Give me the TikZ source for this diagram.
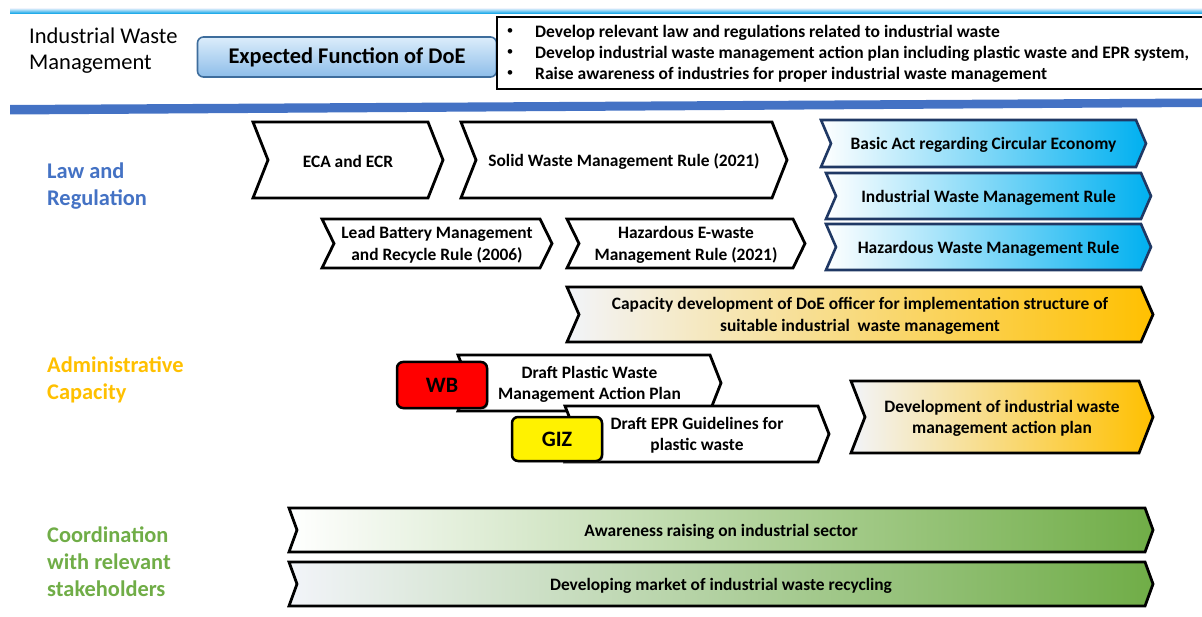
\documentclass[tikz,border=0pt]{standalone}
\usepackage{fontspec}
\setmainfont{Carlito}
\usetikzlibrary{shadows}

\definecolor{lawblue}{HTML}{4472C4}
\definecolor{gold}{HTML}{FFC000}
\definecolor{leaf}{HTML}{70AD47}
\definecolor{sky}{HTML}{00B0F0}
\definecolor{navy}{HTML}{1F3864}
\definecolor{paleblue}{HTML}{F2F4F9}
\definecolor{btntop}{HTML}{DCEDFB}
\definecolor{btnbot}{HTML}{8DBDE9}
\definecolor{btnrim}{HTML}{3E6D9C}

% chevron: name, x1, y1, x2, y2, tip depth, path style, label
\newcommand\chevron[8]{%
  \path[#7] (#2,#3) -- (#4-#6,#3) -- (#4,{(#3+#5)/2}) -- (#4-#6,#5)
    -- (#2,#5) -- (#2+#6,{(#3+#5)/2}) -- cycle;
  \node[chevtext] (#1) at ({(#2+#4)/2},{(#3+#5)/2+1.5}) {#8};
}

\begin{document}
\begin{tikzpicture}[x=1pt,y=-1pt,
  chevtext/.style={font=\fontsize{17.4}{21.5}\selectfont\bfseries,align=center,inner sep=0pt},
  plain/.style={draw=black,line width=2.8pt,fill=white,line join=miter},
  bluechev/.style={draw=navy,line width=2.6pt,left color=white,right color=sky,shading=axis,line join=miter},
  goldchev/.style={draw=black,line width=2.8pt,left color=paleblue,right color=gold,shading=axis,line join=miter},
  greenchev/.style={draw=black,line width=2.8pt,left color=white,right color=leaf,shading=axis,line join=miter},
  greenchevb/.style={draw=black,line width=2.8pt,left color=paleblue,right color=leaf,shading=axis,line join=miter},
  section/.style={anchor=west,align=left,inner sep=0pt,font=\fontsize{22.4}{27}\selectfont\bfseries},
  bullettext/.style={anchor=west,inner sep=0pt,font=\fontsize{17.5}{21}\selectfont\bfseries},
  bulletdot/.style={inner sep=0pt,font=\fontsize{13}{15}\selectfont},
  tag/.style={draw=black,line width=2.5pt,rounded corners=6pt,inner sep=0pt,
    font=\fontsize{22}{24}\selectfont\bfseries,drop shadow={shadow xshift=1.5pt,shadow yshift=-1.5pt,opacity=0.4}}
]
\useasboundingbox (0,0) rectangle (1202,617);
\clip (0,0) rectangle (1202,617);

% header rules
\shade[top color=btntop,bottom color=sky!80!lawblue] (10,8.5) rectangle (1202,13.5);
\fill[lawblue] (10,105) -- (1202,98.5) -- (1202,107) -- (10,114.5) -- cycle;

% header
\node[anchor=west,align=left,inner sep=0pt,font=\fontsize{22.5}{26}\selectfont] (title) at (29,51)
  {Industrial Waste\\Management};
\node[draw=btnrim,line width=1.6pt,rounded corners=6pt,top color=btntop,bottom color=btnbot,
  minimum width=299pt,minimum height=40pt,inner sep=0pt,
  font=\fontsize{22.4}{24}\selectfont\bfseries] (doe) at (347,57) {Expected Function of DoE};
\draw[line width=1.4pt] (1210,17) -- (497,17) -- (497,89) -- (1210,89);
\node[bulletdot] (b1) at (510,32) {•};
\node[bullettext] (t1) at (535,33) {Develop relevant law and regulations related to industrial waste};
\node[bulletdot] (b2) at (510,53) {•};
\node[bullettext] (t2) at (535,54) {Develop industrial waste management action plan including plastic waste and EPR system,};
\node[bulletdot] (b3) at (510,74) {•};
\node[bullettext] (t3) at (535,75) {Raise awareness of industries for proper industrial waste management};

% section labels
\node[section,text=lawblue] (law) at (47,186) {Law and\\Regulation};
\node[section,text=gold] (adm) at (47,380) {Administrative\\Capacity};
\node[section,text=leaf] (coord) at (47,562) {Coordination\\with relevant\\stakeholders};

% law and regulation
\chevron{eca}{253}{122}{443}{198}{15}{plain}{ECA and ECR}
\chevron{swm}{461}{122}{787}{198}{15}{plain}{Solid Waste Management Rule (2021)}
\chevron{lead}{322}{219}{552}{268}{12}{plain}{Lead Battery Management\\and Recycle Rule (2006)}
\chevron{ewaste}{567}{219}{805}{268}{12}{plain}{Hazardous E-waste\\Management Rule (2021)}
\chevron{circ}{821}{120}{1146}{167}{10}{bluechev}{Basic Act regarding Circular Economy}
\chevron{iwm}{826}{173}{1151}{219}{10}{bluechev}{Industrial Waste Management Rule}
\chevron{hwm}{826}{224}{1151}{270}{10}{bluechev}{Hazardous Waste Management Rule}

% administrative capacity
\chevron{cap}{567}{287}{1153}{342}{12}{goldchev}{Capacity development of DoE officer for implementation structure of\\suitable industrial\ \ waste management}
\chevron{plastic}{458}{355}{721}{411}{11}{plain}{Draft Plastic Waste\\Management Action Plan}
\chevron{epr}{565}{406}{829}{462}{11}{plain}{Draft EPR Guidelines for\\plastic waste}
\chevron{plan}{851}{381}{1153}{453}{14}{goldchev}{Development of industrial waste\\management action plan}
\node[tag,fill=red,minimum width=90pt,minimum height=46pt] (wb) at (442,385) {WB};
\node[tag,fill=yellow,minimum width=90pt,minimum height=44pt] (giz) at (557,439) {GIZ};

% coordination
\chevron{aware}{289}{508}{1153}{552}{8}{greenchev}{Awareness raising on industrial sector}
\chevron{market}{289}{562}{1153}{606}{8}{greenchevb}{Developing market of industrial waste recycling}
\end{tikzpicture}
\end{document}
